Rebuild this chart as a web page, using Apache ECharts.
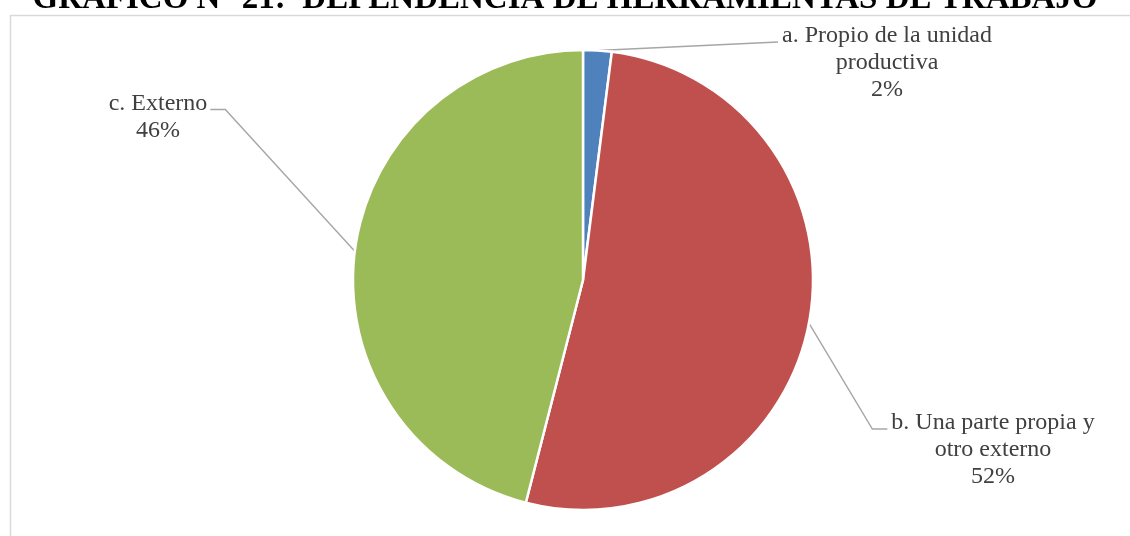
<!DOCTYPE html>
<html>
<head>
<meta charset="utf-8">
<script src="https://cdn.jsdelivr.net/npm/echarts@6/dist/echarts.min.js"></script>
<style>
  html, body { margin: 0; padding: 0; background: #ffffff; }
  #chart { width: 1130px; height: 536px; }
</style>
</head>
<body>
<div id="chart"></div>
<script>
// Categories and shares (%) for the pie
const categories = [
  'a. Propio de la unidad\nproductiva',
  'b. Una parte propia y\notro externo',
  'c. Externo'
];
const shares = [2, 52, 46];
const sliceColors = ['#4F81BD', '#C0504D', '#9BBB59'];
const titleText = 'GRÁFICO N° 21:  DEPENDENCIA DE HERRAMIENTAS DE TRABAJO';

// Label block anchors (centre x, centre y) and which side the leader enters from
const labelAnchors = [
  { x: 887, y: 63, side: 'left', bend: 0 },
  { x: 993, y: 450, side: 'left', bend: 15 },
  { x: 158, y: 117, side: 'right', bend: 15 }
];
const LINE_H = 27;

const chart = echarts.init(document.getElementById('chart'), null, { renderer: 'canvas' });

const option = {
  backgroundColor: '#ffffff',
  animation: false,
  title: {
    text: titleText,
    left: 'center',
    top: -22,
    textStyle: {
      fontFamily: '"Liberation Serif", "Times New Roman", serif',
      fontSize: 33,
      fontWeight: 'bold',
      color: '#000000'
    }
  },
  graphic: [{
    type: 'rect',
    left: 8,
    top: 13,
    shape: { width: 1140, height: 540 },
    style: { fill: 'none', stroke: '#D9D9D9', lineWidth: 1.5 },
    silent: true
  }],
  series: [{
    type: 'pie',
    center: [583, 280],
    radius: [0, 230],
    startAngle: 90,
    clockwise: true,
    data: categories.map((name, i) => ({
      name: name,
      value: shares[i],
      itemStyle: { color: sliceColors[i] }
    })),
    itemStyle: { borderColor: '#ffffff', borderWidth: 2.5 },
    label: {
      show: true,
      position: 'outside',
      formatter: '{b}\n{d}%',
      fontFamily: '"Liberation Serif", "Times New Roman", serif',
      fontSize: 24,
      lineHeight: LINE_H,
      color: '#404040',
      align: 'center'
    },
    labelLine: {
      show: true,
      length: 20,
      length2: 10,
      lineStyle: { color: '#A6A6A6', width: 1.4 }
    },
    labelLayout: function (params) {
      const a = labelAnchors[params.dataIndex];
      const w = params.labelRect.width;
      const h = params.labelRect.height;
      const left = a.x - w / 2;
      const right = a.x + w / 2;
      const top = a.y - h / 2;
      const yLine = top + LINE_H / 2 + 6;
      const p0 = params.labelLinePoints ? params.labelLinePoints[0] : [0, 0];
      let pts;
      if (a.side === 'left') {
        pts = [p0, [left - 4 - a.bend, yLine], [left - 4, yLine]];
      } else {
        pts = [p0, [right + 3 + a.bend, yLine], [right + 3, yLine]];
      }
      return {
        x: a.x,
        y: a.y,
        align: 'center',
        verticalAlign: 'middle',
        labelLinePoints: pts
      };
    }
  }]
};

chart.setOption(option);
</script>
</body>
</html>
